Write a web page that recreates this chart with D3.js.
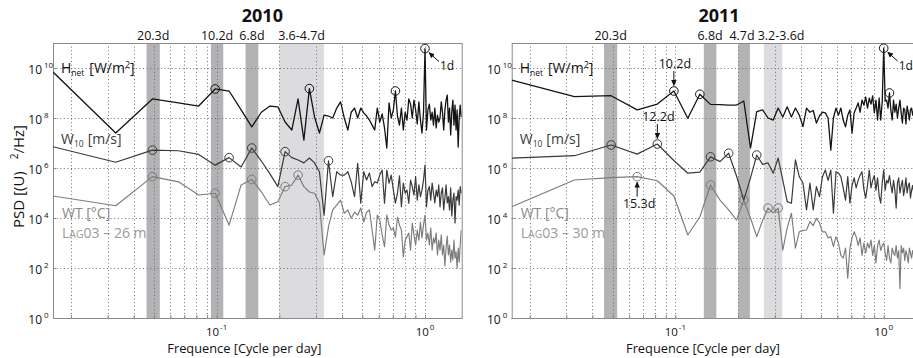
<!DOCTYPE html>
<html><head><meta charset="utf-8">
<script src="https://cdn.jsdelivr.net/npm/d3@7"></script>
<style>
body{margin:0;background:#fff;}
svg{display:block;font-family:"Open Sans",sans-serif;}
</style></head><body>
<svg id="chart" width="913" height="358"></svg>
<script>
// Frequency grid (cycles per day): k/61, k = 1..91
const freq = [0.0164,0.0328,0.0492,0.0656,0.0820,0.0984,0.1148,0.1311,0.1475,0.1639,
0.1803,0.1967,0.2131,0.2295,0.2459,0.2623,0.2787,0.2951,0.3115,0.3279,
0.3443,0.3607,0.3770,0.3934,0.4098,0.4262,0.4426,0.4590,0.4754,0.4918,
0.5082,0.5246,0.5410,0.5574,0.5738,0.5902,0.6066,0.6230,0.6393,0.6557,
0.6721,0.6885,0.7049,0.7213,0.7377,0.7541,0.7705,0.7869,0.8033,0.8197,
0.8361,0.8525,0.8689,0.8852,0.9016,0.9180,0.9344,0.9508,0.9672,0.9836,
1.0000,1.0164,1.0328,1.0492,1.0656,1.0820,1.0984,1.1148,1.1311,1.1475,
1.1639,1.1803,1.1967,1.2131,1.2295,1.2459,1.2623,1.2787,1.2951,1.3115,
1.3279,1.3443,1.3607,1.3770,1.3934,1.4098,1.4262,1.4426,1.4590,1.4754,1.4918];

// 2010 spectra
const hnet2010 = [6.9e9,2.5e7,5.8e8,4.0e8,3.0e8,1.45e9,1.2e9,2.1e8,4.4e7,1.7e8,
3.0e8,2.8e8,6.9e7,3.3e7,5.8e8,1.3e7,1.5e9,1.1e8,2.5e7,1.3e8,
1.2e8,1.0e8,2.5e8,4.4e8,1.0e8,3.3e7,1.7e8,2.5e8,1.0e8,2.5e8,
1.6e8,1.2e8,8.3e7,5.2e7,3.3e7,2.5e8,6.9e7,1.45e8,4.0e7,6.3e6,
4.0e8,1.0e8,2.1e8,1.2e9,1.2e8,5.2e7,2.5e8,3.3e7,1.7e8,8.3e7,
5.8e8,3.6e8,1.0e8,5.2e8,2.1e8,5.8e7,4.4e8,8.3e7,2.5e7,1.7e8,
6.0e10,3.3e7,2.1e8,3.6e8,8.3e7,1.7e8,5.2e7,2.5e8,4.0e7,1.3e8,
6.9e7,1.0e8,4.4e8,1.7e8,3.3e7,2.1e8,5.2e8,8.3e8,6.9e7,2.5e8,
2.1e7,1.7e8,5.2e8,5.2e7,3.3e8,3.3e7,2.1e8,6.9e6,1.0e8,3.3e8,1.1e8];
const w10_2010 = [7.1e6,1.7e6,5.2e6,4.9e6,3.5e6,1.3e6,2.6e6,1.1e6,6.3e6,1.9e6,
5.8e5,1.8e5,4.5e6,2.6e6,2.1e6,1.6e6,2.5e6,1.6e6,6.9e5,1.3e4,
1.95e6,7.1e4,7.1e5,5.2e5,5.2e5,7.1e5,2.8e5,7.1e4,1.55e6,3.9e4,
7.1e5,3.3e5,6.3e5,1.8e5,2.8e5,2.5e5,5.2e5,8.3e5,3.9e4,8.3e5,
2.5e5,5.2e5,1.3e5,3.9e4,9.8e4,4.8e5,2.8e4,2.5e5,9.8e4,1.3e5,
3.9e4,3.3e5,1.8e5,8.3e4,4.5e5,5.2e4,2.1e5,7.1e4,1.3e5,3.3e5,
1.3e6,2.8e4,1.3e5,1.8e5,5.2e4,2.5e5,9.8e4,4.0e4,1.3e5,7.1e4,
2.1e5,2.8e4,1.0e5,1.6e5,2.1e4,6.3e4,2.1e5,4.0e4,7.1e4,2.1e4,
1.6e5,1.2e4,5.2e4,1.0e5,6.3e3,7.1e4,5.2e4,1.3e5,3.3e4,1.8e5,9.8e4];
const wt2010 = [7.6e4,3.1e4,4.5e5,2.8e5,8.3e4,9.8e4,5.2e3,2.1e5,3.5e5,1.1e5,
3.3e4,4.5e4,1.8e5,2.1e5,5.2e5,1.8e5,1.1e5,9.8e4,4.0e4,3.3e2,
4.5e3,2.1e4,3.3e4,5.2e4,1.55e4,2.1e4,9.8e3,1.7e4,1.3e4,2.5e4,
6.9e3,1.7e4,2.1e4,3.3e3,5.2e2,1.3e4,8.3e3,2.1e3,7.1e2,1.3e4,
5.2e3,3.3e3,4.0e3,1.7e3,1.1e4,5.2e3,3.3e3,2.8e2,1.3e3,1.8e3,
2.5e3,5.2e2,6.3e3,2.1e3,8.3e2,3.3e3,1.3e3,6.9e3,1.6e3,5.2e3,
1.3e4,1.3e3,2.5e3,8.3e2,4.0e3,5.2e2,1.6e3,9.8e2,2.5e3,3.3e2,
1.3e3,5.2e2,2.1e3,3.3e2,8.3e2,1.2e2,6.3e2,1.9e3,3.3e2,8.3e2,
1.7e2,5.2e2,2.1e2,1.3e3,2.5e2,4.4e2,1.0e2,6.3e2,1.7e2,8.3e2,3.3e3];

// 2011 spectra
const hnet2011 = [3.3e9,7.1e8,7.8e8,2.1e8,3.6e8,1.2e9,9.8e7,8.9e8,3.5e8,3.4e8,
3.3e8,3.3e8,4.8e8,6.3e6,1.8e8,2.1e8,1.0e8,8.3e7,2.5e8,1.1e8,
2.8e8,1.1e8,2.5e8,1.3e8,4.5e7,2.5e8,1.7e8,2.0e8,6.3e7,1.2e8,
1.7e8,1.6e8,1.0e8,5.2e6,1.0e8,2.5e8,1.3e8,2.5e8,8.3e7,4.4e7,
1.3e8,2.1e8,2.5e7,1.6e8,2.5e8,4.0e8,1.7e8,5.2e8,3.3e8,6.9e8,
2.5e8,6.3e8,3.6e8,7.6e8,1.6e8,5.2e8,8.3e7,6.3e8,8.3e7,4.4e8,
6.2e10,4.8e8,5.2e8,2.5e8,1.0e9,2.1e8,8.3e7,5.2e8,1.7e8,3.6e8,
1.0e8,2.5e8,5.2e8,1.6e8,6.3e7,2.5e8,2.1e8,5.8e7,3.0e8,1.7e8,
8.3e7,2.1e8,2.5e8,1.3e8,2.0e8,7.9e7,2.5e8,1.3e8,3.2e8,6.3e7,1.6e8];
const w10_2011 = [2.5e6,3.1e6,8.3e6,3.6e6,9.1e6,2.0e6,6.2e5,6.8e5,2.8e6,1.8e6,
3.9e6,4.8e5,5.2e4,4.0e5,3.3e6,1.4e6,1.6e6,6.2e5,2.5e6,3.3e5,
4.5e4,3.9e4,2.1e6,4.5e5,2.5e5,2.1e4,2.5e5,2.1e4,1.8e5,7.1e4,
4.5e5,8.3e5,3.2e5,8.3e5,1.55e4,7.1e5,6.3e5,4.5e5,1.6e5,5.2e4,
4.5e5,3.9e4,2.0e5,4.0e5,1.6e5,3.2e5,5.2e5,7.1e5,1.4e5,6.3e4,
2.0e5,8.3e5,1.6e5,3.2e5,5.0e5,1.3e5,4.0e5,7.9e4,3.9e4,2.5e5,
8.3e5,1.3e5,3.2e5,2.5e5,5.0e5,2.0e5,1.0e5,3.2e5,1.3e5,2.5e4,
2.5e5,4.0e5,1.0e5,2.0e5,3.2e5,7.9e4,1.6e5,4.0e5,1.0e5,2.0e5,
2.5e5,6.3e4,1.3e5,2.0e5,1.0e5,2.5e5,7.9e4,1.6e5,3.2e5,6.3e4,1.3e5];
const wt2011 = [2.8e4,3.3e5,4.1e5,4.5e5,3.1e5,7.6e4,2.1e3,1.1e4,2.1e5,5.2e4,
2.1e4,8.3e3,5.2e4,1.0e4,1.8e3,7.9e3,2.5e4,1.6e4,2.5e4,5.2e2,
4.0e3,1.55e4,6.2e2,2.8e3,3.2e3,3.3e3,7.1e3,5.0e3,9.8e3,6.3e3,
2.8e3,2.8e3,1.6e3,1.8e3,7.1e2,1.8e3,1.0e3,3.2e2,2.5e2,6.3e2,
3.9e1,6.3e2,1.6e3,2.8e3,1.8e3,7.9e2,1.6e3,3.2e2,1.0e3,4.0e2,
1.0e3,6.3e2,1.3e3,3.2e2,7.9e2,1.6e2,7.9e2,1.3e3,5.0e2,7.9e2,
1.0e3,4.0e2,2.0e2,7.9e2,2.5e2,1.6e2,6.3e2,4.0e2,3.2e2,7.9e2,
2.5e2,5.0e2,1.5e1,7.9e2,4.0e2,6.3e2,2.0e2,5.0e2,3.2e2,1.6e2,
6.3e2,4.0e2,2.5e2,5.0e2,3.2e2,1.6e2,6.3e2,4.0e2,2.0e2,5.0e2,3.2e2];

// Marked peaks (harmonic number k, i.e. freq[k-1])
const hnetPeaks2010 = [6,17,44,61];
const w10Peaks2010 = [3,7,9,13,21];
const wtPeaks2010 = [3,6,9,13,15];
const hnetPeaks2011 = [6,8,61,65];
const w10Peaks2011 = [3,5,9,11,15];
const wtPeaks2011 = [4,9,13,17,19];

// Highlighted period bands (frequency limits, cpd)
const bandLo2010 = [0.0461,0.0939,0.1377,0.2000];
const bandHi2010 = [0.0534,0.1076,0.1585,0.3270];
const bandLabel2010 = ["20.3d","10.2d","6.8d","3.6-4.7d"];
const bandTone2010 = ["dark","dark","dark","light"];
const bandLo2011 = [0.0455,0.1370,0.2004,0.2660];
const bandHi2011 = [0.0526,0.1574,0.2280,0.3260];
const bandLabel2011 = ["20.3d","6.8d","4.7d","3.2-3.6d"];
const bandTone2011 = ["dark","dark","dark","light"];

const yTickValues = [1,1e2,1e4,1e6,1e8,1e10];
const yTickExp = ["0","2","4","6","8","10"];
const xTickValues = [0.1,1];
const xTickExp = ["-1","0"];

// ---------------------------------------------------------------
const svg = d3.select("#chart");
const plotTop = 43, plotBottom = 318, pw = 408.7;
const col = {hnet:"#141414", w10:"#3a3a3a", wt:"#7c7c7c"};

const panels = [
  {title:"2010", left:53, hnet:hnet2010, w10:w10_2010, wt:wt2010,
   ph:hnetPeaks2010, pw10:w10Peaks2010, pwt:wtPeaks2010,
   lo:bandLo2010, hi:bandHi2010, lab:bandLabel2010, tone:bandTone2010,
   site:"26 m", titleDx:5, xlabDx:-13},
  {title:"2011", left:511.7, hnet:hnet2011, w10:w10_2011, wt:wt2011,
   ph:hnetPeaks2011, pw10:w10Peaks2011, pwt:wtPeaks2011,
   lo:bandLo2011, hi:bandHi2011, lab:bandLabel2011, tone:bandTone2011,
   site:"30 m", titleDx:3, xlabDx:-13}
];

const defs = svg.append("defs");
defs.append("marker").attr("id","arr").attr("viewBox","0 0 10 10")
  .attr("refX",9).attr("refY",5).attr("markerWidth",6).attr("markerHeight",6)
  .attr("markerUnits","userSpaceOnUse").attr("orient","auto")
  .append("path").attr("d","M0,0.5 L10,5 L0,9.5 Z").attr("fill","#111");

panels.forEach((P, pi) => {
  const x = d3.scaleLog().domain([freq[0], 1.5]).range([P.left, P.left + pw]);
  const y = d3.scaleLog().domain([1, 1e11]).range([plotBottom, plotTop]);
  const g = svg.append("g");
  const cid = "clip" + pi;
  defs.append("clipPath").attr("id", cid).append("rect")
    .attr("x", P.left).attr("y", plotTop).attr("width", pw).attr("height", plotBottom - plotTop);

  // bands
  P.lo.forEach((lo, i) => {
    g.append("rect").attr("x", x(lo)).attr("y", plotTop)
      .attr("width", x(P.hi[i]) - x(lo)).attr("height", plotBottom - plotTop)
      .attr("fill", P.tone[i] === "dark" ? "#b3b3b6" : "#dcdcdf");
  });

  // grid
  const grid = g.append("g").attr("stroke", "#6f6f6f").attr("stroke-width", 1)
    .attr("stroke-dasharray", "1,2.6");
  x.ticks().filter(t => t > x.domain()[0] * 1.001 && t < 1.5).forEach(t => {
    grid.append("line").attr("x1", Math.round(x(t)) + 0.5).attr("x2", Math.round(x(t)) + 0.5)
      .attr("y1", plotTop).attr("y2", plotBottom);
  });
  yTickValues.forEach(t => {
    grid.append("line").attr("x1", P.left).attr("x2", P.left + pw)
      .attr("y1", Math.round(y(t)) + 0.5).attr("y2", Math.round(y(t)) + 0.5);
  });

  // axes
  const ax = g.append("g").attr("stroke", "#8a8a8a").attr("fill", "none");
  ax.append("rect").attr("x", P.left + 0.5).attr("y", plotTop + 0.5)
    .attr("width", pw).attr("height", plotBottom - plotTop).attr("stroke-width", 1);
  g.append("g").attr("transform", `translate(0,${plotBottom})`)
    .call(d3.axisBottom(x).ticks(20).tickSize(-3).tickFormat(""))
    .call(s => { s.select(".domain").remove(); s.selectAll("line").attr("stroke", "#8a8a8a"); });
  g.append("g").attr("transform", `translate(${P.left},0)`)
    .call(d3.axisLeft(y).tickValues(yTickValues).tickSize(-3).tickFormat(""))
    .call(s => { s.select(".domain").remove(); s.selectAll("line").attr("stroke", "#8a8a8a"); });

  // y tick labels
  yTickValues.forEach((t, i) => {
    const tx = g.append("text").attr("x", P.left - 24.7).attr("y", y(t) + 5.5)
      .attr("font-size", 12).attr("fill", "#111");
    tx.append("tspan").text("10");
    tx.append("tspan").attr("font-size", 8).attr("dy", -5.5).attr("dx", 2).text(yTickExp[i]);
  });
  // x tick labels
  xTickValues.forEach((t, i) => {
    const tx = g.append("text").attr("x", x(t)).attr("y", 336.3)
      .attr("font-size", 11.5).attr("fill", "#111").attr("text-anchor", "middle");
    tx.append("tspan").text("10");
    tx.append("tspan").attr("font-size", 8).attr("dy", -6.5).attr("dx", 1).text(xTickExp[i]);
  });

  // series
  const plot = g.append("g").attr("clip-path", `url(#${cid})`);
  const line = d3.line().x(d => x(d[0])).y(d => y(d[1]));
  const series = [
    {v: P.wt, c: col.wt, w: 1.15, pk: P.pwt},
    {v: P.w10, c: col.w10, w: 1.2, pk: P.pw10},
    {v: P.hnet, c: col.hnet, w: 1.3, pk: P.ph}
  ];
  series.forEach(S => {
    const pts = freq.map((f, i) => [f, S.v[i]]);
    plot.append("path").attr("d", line(pts)).attr("fill", "none")
      .attr("stroke", S.c).attr("stroke-width", S.w).attr("stroke-linejoin", "round");
    S.pk.forEach(k => {
      plot.append("circle").attr("cx", x(freq[k - 1])).attr("cy", y(S.v[k - 1]))
        .attr("r", 4.3).attr("fill", "none").attr("stroke", S.c).attr("stroke-width", 1);
    });
  });

  // band labels
  P.lo.forEach((lo, i) => {
    const cx = Math.sqrt(lo * P.hi[i]);
    const dx = (pi === 1 && i === 3) ? 8 : (pi === 1 && i === 2 ? -2 : 0);
    g.append("text").attr("x", x(cx) + dx).attr("y", 40).attr("text-anchor", "middle")
      .attr("font-size", 12.5).attr("fill", "#111").text(P.lab[i]);
  });

  // title
  g.append("text").attr("x", P.left + pw / 2 + P.titleDx).attr("y", 21.5)
    .attr("text-anchor", "middle").attr("font-size", 18).attr("font-weight", "bold")
    .attr("fill", "#111").text(P.title);

  // x label
  g.append("text").attr("x", P.left + pw / 2 + P.xlabDx).attr("y", 353.3)
    .attr("text-anchor", "middle").attr("font-size", 12.8).attr("fill", "#111")
    .text("Frequence [Cycle per day]");

  // series labels
  const lx = P.left + 8;
  const t1 = g.append("text").attr("x", lx).attr("y", 73).attr("font-size", 14).attr("fill", "#111");
  t1.append("tspan").text("H");
  t1.append("tspan").attr("font-size", 8.5).attr("dy", 3).text("net");
  t1.append("tspan").attr("dy", -3).attr("dx", 5).text("[W/m");
  t1.append("tspan").attr("font-size", 9).attr("dy", -5).text("2");
  t1.append("tspan").attr("dy", 5).text("]");

  const t2 = g.append("text").attr("x", lx).attr("y", 143.8).attr("font-size", 14).attr("fill", "#3a3a3a");
  t2.append("tspan").text("W");
  t2.append("tspan").attr("font-size", 8.5).attr("dy", 3).text("10");
  t2.append("tspan").attr("dy", -3).attr("dx", 4).text("[m/s]");

  g.append("text").attr("x", lx + 1).attr("y", 218.3).attr("font-size", 14)
    .attr("fill", "#8a8a8a").text("WT [°C]");
  const t4 = g.append("text").attr("x", lx + 1).attr("y", 237.5).attr("font-size", 14).attr("fill", "#9a9a9a");
  t4.append("tspan").text("L");
  t4.append("tspan").attr("font-size", 10.5).text("AG");
  t4.append("tspan").text("03 – " + P.site);

  // 1d annotation
  const k1 = 61;
  const c1x = x(freq[k1 - 1]), c1y = y(P.hnet[k1 - 1]);
  g.append("line").attr("x1", c1x + 14).attr("y1", c1y + 13).attr("x2", c1x + 4).attr("y2", c1y + 4)
    .attr("stroke", "#111").attr("stroke-width", 1).attr("marker-end", "url(#arr)");
  g.append("text").attr("x", c1x + 15).attr("y", c1y + 21.5).attr("font-size", 12)
    .attr("fill", "#111").text("1d");
});

// extra 2011 annotations (arrows to marked peaks)
{
  const P = panels[1];
  const x = d3.scaleLog().domain([freq[0], 1.5]).range([P.left, P.left + pw]);
  const y = d3.scaleLog().domain([1, 1e11]).range([plotBottom, plotTop]);
  const ann = [
    {k: 6, v: hnet2011, txt: "10.2d", dir: -1},
    {k: 5, v: w10_2011, txt: "12.2d", dir: -1},
    {k: 4, v: wt2011, txt: "15.3d", dir: 1}
  ];
  ann.forEach(a => {
    const cx = x(freq[a.k - 1]), cy = y(a.v[a.k - 1]);
    const y1 = cy + a.dir * 20, y2 = cy + a.dir * 5.5;
    svg.append("line").attr("x1", cx).attr("x2", cx).attr("y1", y1).attr("y2", y2)
      .attr("stroke", "#111").attr("stroke-width", 1).attr("marker-end", "url(#arr)");
    svg.append("text").attr("x", cx + (a.dir > 0 ? 2 : 1)).attr("y", a.dir < 0 ? cy - 23.5 : cy + 31)
      .attr("text-anchor", "middle").attr("font-size", 12.5).attr("fill", "#111").text(a.txt);
  });
}

// y axis title
const yl = svg.append("text").attr("transform", "translate(23.5,176.5) rotate(-90)")
  .attr("text-anchor", "middle").attr("font-size", 15).attr("fill", "#111");
yl.append("tspan").text("PSD [(U)");
yl.append("tspan").attr("dx", 12).attr("font-size", 10).attr("dy", -6).text("2");
yl.append("tspan").attr("dy", 6).text("/Hz]");
</script>
</body></html>
